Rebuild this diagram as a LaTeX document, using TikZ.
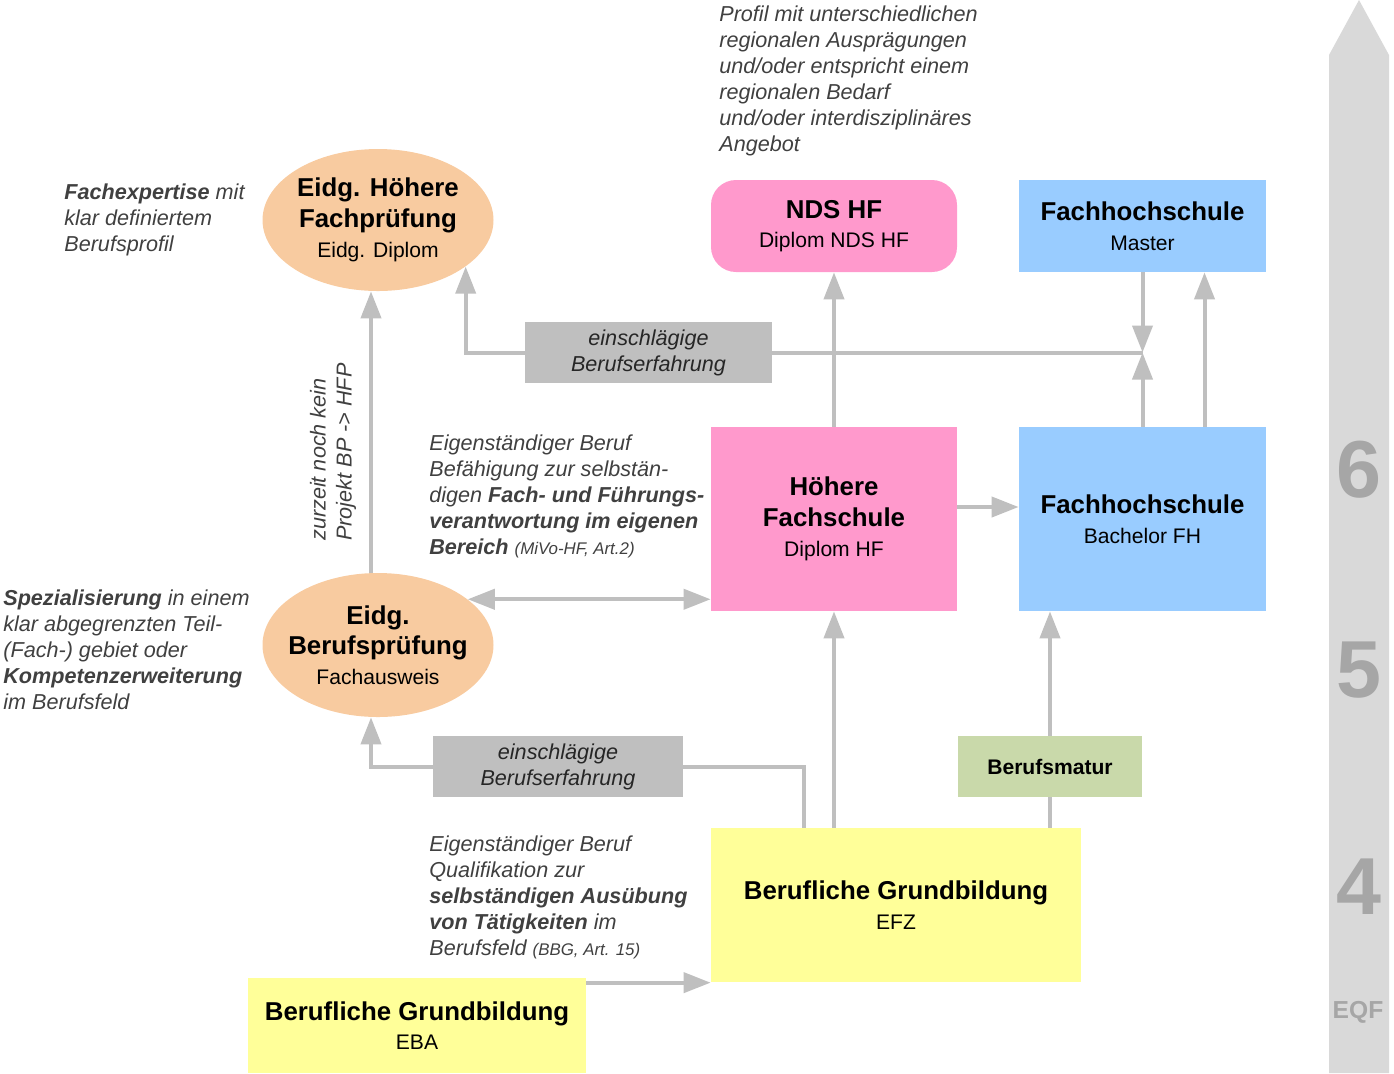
\documentclass[tikz,border=0pt]{standalone}
\usepackage{fontspec}
\setmainfont{Liberation Sans}
\usetikzlibrary{shapes.geometric, arrows.meta, positioning, calc, backgrounds}

\definecolor{peach}{HTML}{F8CBA0}
\definecolor{pinkhf}{HTML}{FF99CC}
\definecolor{bluefh}{HTML}{99CCFF}
\definecolor{greenbm}{HTML}{C9D9AA}
\definecolor{yellowbg}{HTML}{FFFF99}
\definecolor{boxgray}{HTML}{BFBFBF}
\definecolor{linegray}{HTML}{BFBFBF}
\definecolor{bargray}{HTML}{D9D9D9}
\definecolor{digitgray}{HTML}{A6A6A6}
\definecolor{notegray}{HTML}{404040}

\newcommand{\headfont}{\fontsize{14.7}{17.6}\selectfont\bfseries}
\newcommand{\subtxt}[1]{\\[-0.8pt]{\fontsize{12}{14}\selectfont\mdseries #1}}
\newcommand{\notefont}{\fontsize{12.3}{14.8}\selectfont\itshape}
\newcommand{\refnote}[1]{{\fontsize{9.6}{10}\selectfont #1}}

\begin{document}
\begin{tikzpicture}[
    x=0.2mm, y=-0.2mm,
    exam/.style={ellipse, fill=peach, minimum width=46.2mm, minimum height=28.4mm, inner sep=0pt},
    examtext/.style={align=center, font=\headfont, text=black},
    school/.style={rectangle, fill=pinkhf, minimum width=49.2mm, minimum height=36.8mm, align=center, font=\headfont},
    ndsbox/.style={rectangle, rounded corners=5mm, fill=pinkhf, minimum width=49.2mm, minimum height=18.4mm, align=center, font=\headfont},
    fhbox/.style={rectangle, fill=bluefh, minimum width=49.4mm, align=center, font=\headfont},
    basic/.style={rectangle, fill=yellowbg, align=center, font=\headfont},
    matur/.style={rectangle, fill=greenbm, minimum width=36.8mm, minimum height=12.2mm, font=\fontsize{12}{14}\selectfont\bfseries},
    practice/.style={rectangle, fill=boxgray, minimum height=12.2mm, align=center, font=\notefont, text=black!85},
    note/.style={anchor=north west, align=left, inner sep=0pt, font=\notefont, text=notegray},
    level/.style={font=\fontsize{46}{46}\selectfont\bfseries, text=digitgray},
    arrow/.style={line width=0.8mm, draw=linegray, -{Triangle[length=5.4mm, width=4mm]}},
    dblarrow/.style={line width=0.8mm, draw=linegray, {Triangle[length=5.4mm, width=4mm]}-{Triangle[length=5.4mm, width=4mm]}},
]
    \useasboundingbox (0,0) rectangle (1394,1073);

    % EQF levels
    \fill[bargray] (1329,1073) -- (1329,55) -- (1359,0) -- (1389,55) -- (1389,1073) -- cycle;
    \node (lvl6) [level] at (1359,470) {6};
    \node (lvl5) [level] at (1359,670) {5};
    \node (lvl4) [level] at (1359,887) {4};
    \node (eqf) [font=\fontsize{14}{14}\selectfont\bfseries, text=digitgray] at (1358,1012) {EQF};

    % Tertiary level
    \node (hfp) [exam, label={[examtext]center:Eidg. Höhere\\Fachprüfung\subtxt{Eidg. Diplom}}] at (378,220) {};
    \node (nds) [ndsbox] at (834,226) {NDS HF\subtxt{Diplom NDS HF}};
    \node (fhm) [fhbox, minimum height=18.4mm] at (1142.5,226) {Fachhochschule\subtxt{Master}};
    \node (erf1) [practice, minimum width=49.4mm] at (648.5,352.5) {einschlägige\\Berufserfahrung};
    \coordinate (jn) at (fhm.south |- erf1.center);

    \node (hf) [school] at (834,519) {Höhere\\Fachschule\subtxt{Diplom HF}};
    \node (fhb) [fhbox, minimum height=36.8mm] at (1142.5,519) {Fachhochschule\subtxt{Bachelor FH}};
    \node (bp) [exam, minimum height=28.8mm, label={[examtext]center:Eidg.\\Berufsprüfung\subtxt{Fachausweis}}] at (378,645) {};

    % Secondary level
    \node (erf2) [practice, minimum width=50mm] at (558,766.5) {einschlägige\\Berufserfahrung};
    \node (bm) [matur] at (1050,766.5) {Berufsmatur};
    \node (efz) [basic, minimum width=74mm, minimum height=30.8mm] at (896,905) {Berufliche Grundbildung\subtxt{EFZ}};
    \node (eba) [basic, minimum width=67.6mm, minimum height=19mm] at (417,1025.5) {Berufliche Grundbildung\subtxt{EBA}};

    % Notes
    \node (note1) [note] at (719,5) {Profil mit unterschiedlichen\\regionalen Ausprägungen\\und/oder entspricht einem\\regionalen Bedarf\\und/oder interdisziplinäres\\Angebot};
    \node (note2) [note] at (64,183) {\textbf{Fachexpertise} mit\\klar definiertem\\Berufsprofil};
    \node (note3) [note] at (429,434) {Eigenständiger Beruf\\Befähigung zur selbstän-\\digen \textbf{Fach- und Führungs-}\\\textbf{verantwortung im eigenen}\\\textbf{Bereich} \refnote{(MiVo-HF, Art.2)}};
    \node (note4) [rotate=90, anchor=west, align=left, inner sep=0pt, font=\notefont, text=notegray] at (333,541) {zurzeit noch kein\\Projekt BP -> HFP};
    \node (note5) [note] at (3,589) {\textbf{Spezialisierung} in einem\\klar abgegrenzten Teil-\\(Fach-) gebiet oder\\\textbf{Kompetenzerweiterung}\\im Berufsfeld};
    \node (note6) [note] at (429,835) {Eigenständiger Beruf\\Qualifikation zur\\\textbf{selbständigen Ausübung}\\\textbf{von Tätigkeiten} im\\Berufsfeld \refnote{(BBG, Art. 15)}};

    % Connectors
    \begin{scope}[on background layer]
        \draw [arrow] ([xshift=-1.4mm]bp.north) -- ([xshift=-1.4mm]hfp.south);
        \draw [arrow] (jn) -| (hfp.-28);
        \draw [arrow] (fhm.south) -- (jn);
        \draw [arrow] (fhb.north) -- (jn);
        \draw [arrow] ([xshift=12.4mm]fhb.north) -- ([xshift=12.4mm]fhm.south);
        \draw [arrow] (hf.north) -- (nds.south);
        \draw [arrow] ([yshift=2.4mm]hf.east) -- ([yshift=2.4mm]fhb.west);
        \draw [dblarrow] (bp.27) -- (bp.27 -| hf.west);
        \draw [arrow] (efz.north -| hf.south) -- (hf.south);
        \draw [arrow] (efz.north -| bm.south) -- (bm.north |- fhb.south);
        \draw [arrow] ([xshift=18.6mm]efz.north west) |- (erf2.center) -| ([xshift=-1.4mm]bp.south);
        \draw [arrow] ([yshift=-1mm]eba.north east) -- ([yshift=-1mm]eba.north east -| efz.west);
    \end{scope}
\end{tikzpicture}
\end{document}
